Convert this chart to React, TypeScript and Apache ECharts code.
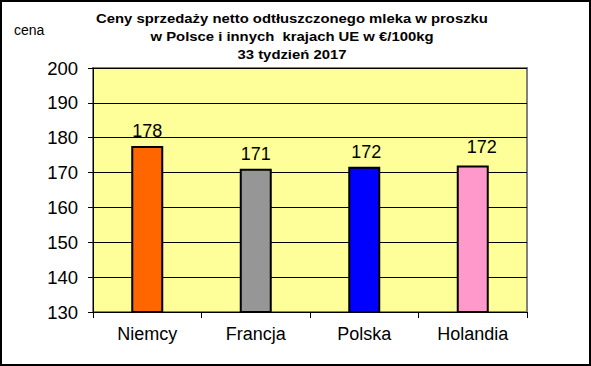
import React, { useEffect, useRef } from "react";
import * as echarts from "echarts";

const categories = ["Niemcy", "Francja", "Polska", "Holandia"];
const values = [177.6, 171.1, 171.7, 172.0];
const labels = ["178", "171", "172", "172"];
const barColors = ["#FF6600", "#969696", "#0000FF", "#FF99CC"];
const labelOffsets = [[0, 0], [0, 0], [2, 0], [9, -4]];
const titleLines = [
  "Ceny sprzedaży netto odtłuszczonego mleka w proszku",
  "w Polsce i innych  krajach UE w €/100kg",
  "33 tydzień 2017",
];

const FONT = "Arial, 'Liberation Sans', sans-serif";

export default function App() {
  const ref = useRef<HTMLDivElement>(null);
  useEffect(() => {
    if (!ref.current) return;
    const chart = echarts.init(ref.current, null, { renderer: "svg" });
    chart.setOption({
      animation: false,
      backgroundColor: "#FFFFFF",
      textStyle: { fontFamily: FONT },
      graphic: [
        {
          type: "rect",
          shape: { x: 1, y: 1, width: 589, height: 364 },
          style: { fill: "none", stroke: "#000", lineWidth: 2 },
          z: 100,
        },
        {
          type: "group",
          x: 292,
          y: 0,
          scaleX: 1.1,
          children: titleLines.map((t, i) => ({
            type: "text",
            x: 0,
            y: 25 + i * 18,
            style: {
              text: t,
              fontSize: 13.5,
              fontWeight: "bold",
              fill: "#000",
              align: "center",
              verticalAlign: "bottom",
              fontFamily: FONT,
            },
          })),
        },
        {
          type: "text",
          x: 14,
          y: 23,
          style: {
            text: "cena",
            fontSize: 14,
            fill: "#000",
            fontFamily: FONT,
          },
        },
      ],
      grid: {
        left: 93,
        right: 64,
        top: 68,
        bottom: 54,
        show: true,
        backgroundColor: "#FFFF99",
        borderColor: "#808080",
        borderWidth: 2,
      },
      xAxis: {
        type: "category",
        data: categories,
        axisLine: { lineStyle: { color: "#000", width: 1 } },
        axisTick: { show: true, length: 6, lineStyle: { color: "#000" } },
        axisLabel: { fontSize: 18, color: "#000", margin: 13 },
      },
      yAxis: {
        type: "value",
        min: 130,
        max: 200,
        interval: 10,
        axisLine: { show: true, lineStyle: { color: "#000", width: 1 } },
        axisTick: { show: true, length: 5, lineStyle: { color: "#000" } },
        axisLabel: { fontSize: 18.5, color: "#000", margin: 15 },
        splitLine: { show: true, lineStyle: { color: "#000", width: 1 } },
      },
      series: [
        {
          type: "bar",
          barWidth: 32,
          data: values.map((v, i) => ({
            value: v,
            itemStyle: { color: barColors[i], borderColor: "#000", borderWidth: 2 },
            label: { formatter: labels[i], offset: labelOffsets[i] },
          })),
          label: {
            show: true,
            position: "top",
            distance: 6,
            fontSize: 18,
            color: "#000",
          },
        },
      ],
    });
    return () => chart.dispose();
  }, []);
  return (
    <div
      ref={ref}
      style={{ position: "fixed", left: 0, top: 0, width: 591, height: 366 }}
    />
  );
}
